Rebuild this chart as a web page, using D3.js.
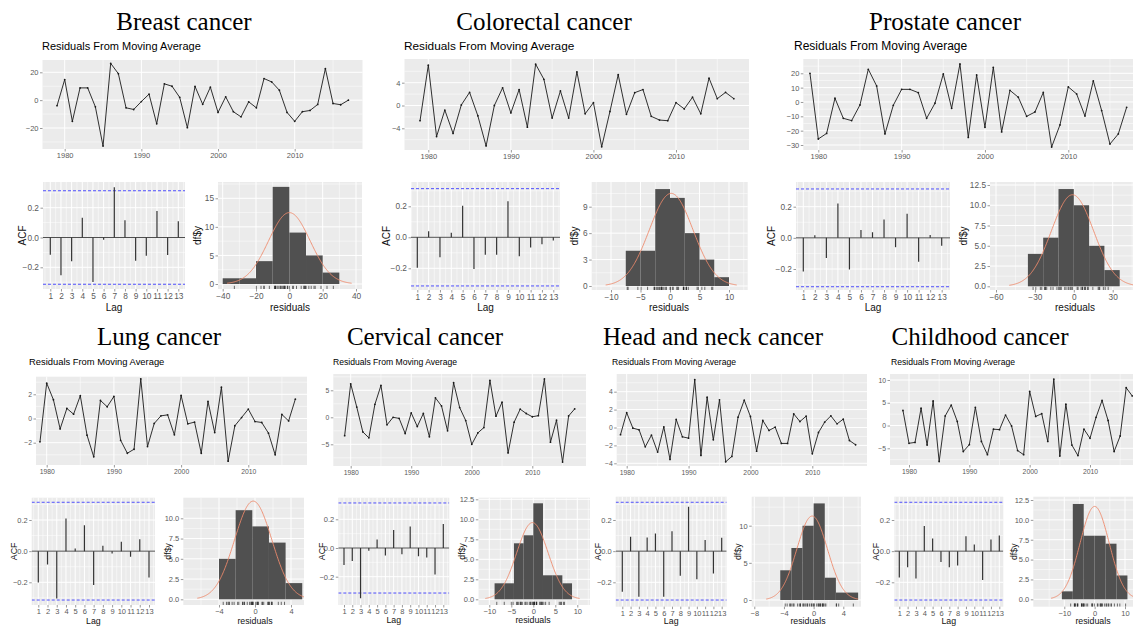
<!DOCTYPE html>
<html><head><meta charset="utf-8">
<script src="https://cdn.jsdelivr.net/npm/d3@7"></script>
<style>
body{margin:0;background:#fff;overflow:hidden;}
svg{display:block;}
</style></head><body>
<svg id="fig" width="1133" height="626"></svg>
<script>
// ---- data ----
const years = d3.range(1979, 2018);
const lags = [1,2,3,4,5,6,7,8,9,10,11,12,13];
const yearTicks = [1980, 1990, 2000, 2010];
const acfTicks = [-0.2, 0, 0.2];

const breastResid = [-4,14.8,-15.2,8.8,8.8,-4.8,-33,26.4,19,-5.5,-6.7,-1,4.3,-17,11.7,10,2,-19.8,9.8,-3,9.3,-8.8,2.4,-8.3,-12,-1.2,-5.5,15.5,13.1,7.1,-8.8,-15.2,-8.3,-7.4,-3.1,22.6,-2.4,-3.3,0];
const breastAcf = [-0.116,-0.253,-0.16,0.133,-0.298,-0.015,0.338,0.116,-0.156,-0.122,0.178,-0.118,0.109];
const breastBins = [-40, 10];            // first bin start, bin width
const breastCounts = [1,1,4,17,9,5,2];
const breastFit = [0, 12.45];            // normal mean, sd
const breastTsTicks = [-20, 0, 20];
const breastHistX = [-40, -20, 0, 20, 40];
const breastHistY = [0, 5, 10, 15];

const colorectalResid = [-2.67,7.07,-5.45,-0.8,-4.9,0.1,2.3,-1.8,-7.1,0,3.1,-1.3,2.8,-3.8,7.25,4.6,-2.2,2.55,-2.2,5.9,-1.45,0.5,-7.25,-1.05,5.4,-1.55,2.25,2.8,-1.9,-2.55,-2.67,0.5,-0.6,1.45,-1.45,4.8,1.2,2.3,1.2];
const colorectalAcf = [-0.196,0.039,-0.129,0.03,0.204,-0.204,-0.112,-0.112,0.232,-0.123,-0.065,-0.045,-0.02];
const colorectalBins = [-7.5, 2.5];
const colorectalCounts = [4,4,11,10,6,3,1];
const colorectalFit = [0.2, 3.7];
const colorectalTsTicks = [-4, 0, 4];
const colorectalHistX = [-10, -5, 0, 5, 10];
const colorectalHistY = [0, 3, 6, 9];

const prostateResid = [20,-25.8,-21.9,2.6,-11.4,-13,-2.1,22.8,11.2,-22.3,-2.3,8.8,8.8,6.5,-11.4,-0.9,19.5,-4.4,26.5,-24.7,18.8,-17.7,24.2,-20.9,8.1,3.3,-10,-7,6.7,-31.4,-16,10.5,5.6,-9.8,14.7,-6,-29.3,-22.3,-3.7];
const prostateAcf = [-0.216,0.017,-0.13,0.22,-0.203,0.051,0.036,0.118,-0.06,0.154,-0.154,0.019,-0.051];
const prostateBins = [-35.4, 11.8];
const prostateCounts = [4,6,12,10,5,2];
const prostateFit = [-1, 16.25];
const prostateTsTicks = [-30, -20, -10, 0, 10, 20];
const prostateHistX = [-60, -30, 0, 30];
const prostateHistY = [0, 2.5, 5, 7.5, 10, 12.5];

const lungResid = [-1.93,2.92,1.55,-0.86,0.83,0.36,1.88,-1.38,-3.17,1.49,0.97,1.82,-1.8,-2.87,-2.54,3.28,-2.32,-0.41,0.22,0.3,-1.35,1.9,-0.44,-0.3,-2.87,1.41,-1.16,2.59,-3.53,-0.6,0.08,0.77,-0.25,-0.33,-1.21,-3.0,0.33,-0.2,1.6];
const lungAcf = [-0.201,-0.086,-0.304,0.21,0.017,0.167,-0.218,0.034,-0.015,0.06,-0.036,0.077,-0.169];
const lungBins = [-4.0, 1.85];
const lungCounts = [5,11,9,7,2];
const lungFit = [-0.2, 2.07];
const lungTsTicks = [-2, 0, 2];
const lungHistX = [-4, 0, 4];
const lungHistY = [0, 2.5, 5, 7.5, 10];

const cervicalResid = [-3.4,6.2,1.9,-2.7,-3.8,2.4,5.9,-1.4,0,-0.2,-3.0,0.8,-1.7,0.7,-3.6,3.6,2.1,-2.5,6.4,1.8,-0.6,-5.0,-2.9,-1.9,6.85,0.2,2.8,-6.6,-0.9,1.5,0.7,0.1,0.3,7.1,-4.6,-0.55,-8.3,0.25,1.55];
const cervicalAcf = [-0.119,-0.091,-0.351,-0.019,0.06,-0.053,0.126,-0.044,0.149,-0.058,-0.067,-0.184,0.167];
const cervicalBins = [-8.8, 2.2];
const cervicalCounts = [2,2,7,8,12,3,3,2];
const cervicalFit = [-0.2, 3.57];
const cervicalTsTicks = [-5, 0, 5];
const cervicalHistX = [-10, -5, 0, 5, 10];
const cervicalHistY = [0, 2.5, 5, 7.5, 10, 12.5];

const headResid = [-0.8,1.65,-0.07,-0.26,-2.16,-0.86,-2.75,0.07,-3.57,0.9,-1.04,-1.19,5.35,-3.12,3.38,-1.38,3.09,-3.83,-3.23,1.15,3.05,1.23,-2.64,0.78,-0.33,0.04,-1.78,-1.78,1.52,0.67,1.26,-2.94,-0.56,0.6,1.3,0.41,0.93,-1.45,-1.93];
const headAcf = [-0.261,0.092,-0.293,0.088,0.113,-0.293,0.128,-0.158,0.285,-0.18,0.071,-0.143,0.086];
const headBins = [-4.5, 1.5];
const headCounts = [4,7,10,13,3,1,1];
const headFit = [-0.2, 2.065];
const headTsTicks = [-4, -2, 0, 2, 4];
const headHistX = [-8, -4, 0, 4];
const headHistY = [0, 5, 10];

const childResid = [3.3,-3.9,-3.7,3.8,-4.3,5.4,-7.9,2.1,4.5,0.9,-5.7,-4.2,4.0,-3.5,-6.4,-0.8,-0.9,2.3,-0.1,-5.5,-6.4,7.5,2.0,2.6,-3.5,10.2,-6.7,4.7,-4.3,-6.6,-0.8,-2.8,1.8,5.5,1.1,-5.7,-2.3,8.3,6.5];
const childAcf = [-0.169,-0.103,-0.176,0.161,0.081,-0.069,-0.103,-0.092,0.096,0.043,-0.186,0.075,0.101];
const childBins = [-10.8, 3.6];
const childCounts = [1,12,8,8,7,3];
const childFit = [0, 4.79];
const childTsTicks = [-5, 0, 5, 10];
const childHistX = [-10, 0, 10];
const childHistY = [0, 2.5, 5, 7.5, 10, 12.5];

// ---- figure layout: each panel is placed by its rectangle and two calibration ticks per axis ----
const SANS = '"Liberation Sans", Arial, sans-serif';
const SERIF = '"Liberation Serif", "Times New Roman", serif';

const figures = [
  { title: 'Breast cancer', resid: breastResid, acf: breastAcf, bins: breastBins, counts: breastCounts, fit: breastFit,
    tsTicks: breastTsTicks, histX: breastHistX, histY: breastHistY,
    L: { title: [184, 30, 25], sub: [42, 50, 11], tickFs: 7.5, lowFs: 8.3, labFs: 10,
      ts: { r: [42.5, 362.5, 60, 149], xc: [1980, 64.7, 2010, 294.7], yc: [20, 72.3, -20, 128] },
      acf: { r: [43, 185, 182, 289], xc: [1, 50.3, 13, 178.3], yc: [0.2, 207.7, -0.2, 267.3] },
      hist: { r: [218, 362, 182, 289], xc: [-40, 222.7, 40, 356], yc: [15, 198.3, 0, 284] },
      acfLabX: 22, histLabX: 197, xlabY: 311, resLabX: 290 } },
  { title: 'Colorectal cancer', resid: colorectalResid, acf: colorectalAcf, bins: colorectalBins, counts: colorectalCounts, fit: colorectalFit,
    tsTicks: colorectalTsTicks, histX: colorectalHistX, histY: colorectalHistY,
    L: { title: [544, 30, 25], sub: [404, 50, 11.8], tickFs: 7.5, lowFs: 8.3, labFs: 10,
      ts: { r: [404.5, 749, 59, 150], xc: [1980, 428.3, 2010, 676], yc: [4, 82.7, -4, 128.3] },
      acf: { r: [411, 560, 182, 290], xc: [1, 417.3, 13, 553.3], yc: [0.2, 206.3, -0.2, 268.3] },
      hist: { r: [591.7, 747.7, 182, 290], xc: [-10, 611, 10, 729], yc: [9, 206.7, 0, 286] },
      acfLabX: 386.7, histLabX: 574.3, xlabY: 311, resLabX: 669 } },
  { title: 'Prostate cancer', resid: prostateResid, acf: prostateAcf, bins: prostateBins, counts: prostateCounts, fit: prostateFit,
    tsTicks: prostateTsTicks, histX: prostateHistX, histY: prostateHistY,
    L: { title: [945, 30, 25], sub: [794, 50, 12], tickFs: 7.5, lowFs: 8.3, labFs: 10,
      ts: { r: [803.3, 1142, 59, 150], xc: [1980, 818.3, 2010, 1068.3], yc: [20, 73.3, -30, 145] },
      acf: { r: [796, 950, 182, 290], xc: [1, 803.3, 13, 941.7], yc: [0.2, 206.7, -0.2, 269] },
      hist: { r: [990, 1158, 182, 290], xc: [-60, 996, 30, 1112.7], yc: [12.5, 185, 0, 286.3] },
      acfLabX: 771.7, histLabX: 963, xlabY: 311, resLabX: 1075 } },
  { title: 'Lung cancer', resid: lungResid, acf: lungAcf, bins: lungBins, counts: lungCounts, fit: lungFit,
    tsTicks: lungTsTicks, histX: lungHistX, histY: lungHistY,
    L: { title: [159, 345, 25], sub: [29, 365, 9.4], tickFs: 6.8, lowFs: 7.5, labFs: 8.8,
      ts: { r: [36, 307, 376.7, 465], xc: [1980, 46.7, 2010, 248.3], yc: [2, 394.3, -2, 442.7] },
      acf: { r: [31.7, 155, 497.7, 605], xc: [1, 38.3, 13, 149], yc: [0.2, 520, -0.2, 582.3] },
      hist: { r: [183.3, 304, 497.7, 605], xc: [-4, 219, 0, 255], yc: [10, 518.3, 0, 599.3] },
      acfLabX: 14, histLabX: 168, xlabY: 624, resLabX: 255 } },
  { title: 'Cervical cancer', resid: cervicalResid, acf: cervicalAcf, bins: cervicalBins, counts: cervicalCounts, fit: cervicalFit,
    tsTicks: cervicalTsTicks, histX: cervicalHistX, histY: cervicalHistY,
    L: { title: [425, 345, 25], sub: [333, 365, 8.6], tickFs: 6.8, lowFs: 7.5, labFs: 8.8,
      ts: { r: [333.3, 586, 374, 466], xc: [1980, 350.7, 2010, 532.3], yc: [5, 390.3, -5, 444.3] },
      acf: { r: [338.3, 449.3, 497.7, 605], xc: [1, 344, 13, 443.3], yc: [0.2, 519.3, -0.2, 576.7] },
      hist: { r: [478.3, 590, 497.7, 605], xc: [-10, 489.3, 10, 577.3], yc: [12.5, 499.3, 0, 599.3] },
      acfLabX: 321.7, histLabX: 461.7, xlabY: 623, resLabX: 533 } },
  { title: 'Head and neck cancer', resid: headResid, acf: headAcf, bins: headBins, counts: headCounts, fit: headFit,
    tsTicks: headTsTicks, histX: headHistX, histY: headHistY,
    L: { title: [713, 345, 25], sub: [612, 365, 8.6], tickFs: 6.8, lowFs: 7.5, labFs: 8.8,
      ts: { r: [616.7, 867, 374, 466], xc: [1980, 626.7, 2010, 812.3], yc: [4, 391.7, -4, 463.3] },
      acf: { r: [615.7, 726.7, 496.7, 606.7], xc: [1, 622.3, 13, 721.7], yc: [0.2, 520, -0.2, 582.3] },
      hist: { r: [751.7, 861, 496.7, 606.7], xc: [-8, 754.3, 4, 843.3], yc: [10, 525.7, 0, 600] },
      acfLabX: 598.3, histLabX: 738.3, xlabY: 624, resLabX: 808 } },
  { title: 'Childhood cancer', resid: childResid, acf: childAcf, bins: childBins, counts: childCounts, fit: childFit,
    tsTicks: childTsTicks, histX: childHistX, histY: childHistY,
    L: { title: [980, 345, 25], sub: [891, 365, 8.6], tickFs: 6.8, lowFs: 7.5, labFs: 8.8,
      ts: { r: [890, 1150, 374, 465], xc: [1980, 909, 2010, 1090], yc: [10, 380, -5, 448.3] },
      acf: { r: [894.3, 1003.3, 496.7, 606.7], xc: [1, 899.3, 13, 999.3], yc: [0.2, 520, -0.2, 582.3] },
      hist: { r: [1033.3, 1160, 496.7, 606.7], xc: [-10, 1064.3, 10, 1125], yc: [12.5, 500, 0, 599.3] },
      acfLabX: 875.7, histLabX: 1014.3, xlabY: 624, resLabX: 1093 } }
];

// ---- helpers ----
const svg = d3.select('#fig');
let clipCount = 0;

// linear scale whose ticks v1, v2 land on pixels p1, p2, spanning range [r0, r1]
function calib(c, r0, r1) {
  const [v1, p1, v2, p2] = c;
  const k = (p2 - p1) / (v2 - v1);
  return d3.scaleLinear().domain([v1 + (r0 - p1) / k, v1 + (r1 - p1) / k]).range([r0, r1]);
}

function minorBreaks(ticks, scale) {
  const step = ticks[1] - ticks[0];
  const [a, b] = d3.extent(scale.domain());
  const out = [];
  for (let i = -1; i < ticks.length; i++) {
    const m = ticks[0] + (i + 0.5) * step;
    if (m > a && m < b) out.push(m);
  }
  return out;
}

function panel(spec, xTicks, yTicks) {
  const [x0, x1, y0, y1] = spec.r;
  const xs = calib(spec.xc, x0, x1);
  const ys = calib(spec.yc, y1, y0);
  const g = svg.append('g');
  g.append('rect').attr('x', x0).attr('y', y0).attr('width', x1 - x0).attr('height', y1 - y0).attr('fill', '#ebebeb');
  const grid = g.append('g').attr('stroke', '#ffffff');
  grid.selectAll('.vmin').data(minorBreaks(xTicks, xs)).join('line')
    .attr('x1', d => xs(d)).attr('x2', d => xs(d)).attr('y1', y0).attr('y2', y1).attr('stroke-width', 0.5);
  grid.selectAll('.hmin').data(minorBreaks(yTicks, ys)).join('line')
    .attr('y1', d => ys(d)).attr('y2', d => ys(d)).attr('x1', x0).attr('x2', x1).attr('stroke-width', 0.5);
  grid.selectAll('.vmaj').data(xTicks.filter(t => t >= xs.domain()[0] && t <= xs.domain()[1])).join('line')
    .attr('x1', d => xs(d)).attr('x2', d => xs(d)).attr('y1', y0).attr('y2', y1).attr('stroke-width', 1);
  grid.selectAll('.hmaj').data(yTicks).join('line')
    .attr('y1', d => ys(d)).attr('y2', d => ys(d)).attr('x1', x0).attr('x2', x1).attr('stroke-width', 1);
  const id = 'clip' + (clipCount++);
  g.append('clipPath').attr('id', id).append('rect')
    .attr('x', x0).attr('y', y0).attr('width', x1 - x0).attr('height', y1 - y0);
  const inner = g.append('g').attr('clip-path', `url(#${id})`);
  return { g, inner, xs, ys, r: spec.r };
}

function styleAxis(a, fs) {
  a.select('.domain').remove();
  a.selectAll('line').attr('stroke', '#555').attr('stroke-width', 0.6);
  a.selectAll('text').attr('fill', '#5a5a5a').attr('font-size', fs).attr('font-family', SANS);
}

function axes(p, xTicks, xFmt, yTicks, yFmt, fs) {
  const [x0, x1, y0, y1] = p.r;
  const ax = p.g.append('g').attr('transform', `translate(0,${y1})`)
    .call(d3.axisBottom(p.xs).tickValues(xTicks).tickFormat(xFmt).tickSize(2.5).tickPadding(1.5));
  styleAxis(ax, fs);
  const ay = p.g.append('g').attr('transform', `translate(${x0},0)`)
    .call(d3.axisLeft(p.ys).tickValues(yTicks).tickFormat(yFmt).tickSize(2.5).tickPadding(1.5));
  styleAxis(ay, fs);
}

function text(x, y, s, fs, opts = {}) {
  const t = svg.append('text').attr('x', x).attr('y', y).text(s)
    .attr('font-size', fs).attr('font-family', opts.family || SANS)
    .attr('fill', opts.fill || '#111').attr('text-anchor', opts.anchor || 'start');
  if (opts.rotate) t.attr('transform', `rotate(-90,${x},${y})`).attr('dominant-baseline', 'central');
  return t;
}

const fmtInt = d3.format('d');
const fmtYear = d3.format('d');
const fmtAcf = d3.format('.1f');
function histYFmt(ticks) {
  return ticks.some(t => !Number.isInteger(t)) ? d3.format('.1f') : d3.format('d');
}

// ---- draw every cancer site ----
figures.forEach(f => {
  const L = f.L;
  text(L.title[0], L.title[1], f.title, L.title[2], { family: SERIF, anchor: 'middle', fill: '#000' });
  text(L.sub[0], L.sub[1], 'Residuals From Moving Average', L.sub[2], { fill: '#000' });

  // residual series
  const ts = panel(L.ts, yearTicks, f.tsTicks);
  axes(ts, yearTicks, fmtYear, f.tsTicks, fmtInt, L.tickFs);
  const pts = years.map((y, i) => [y, f.resid[i]]);
  ts.inner.append('path').datum(pts)
    .attr('d', d3.line().x(d => ts.xs(d[0])).y(d => ts.ys(d[1])))
    .attr('fill', 'none').attr('stroke', '#1a1a1a').attr('stroke-width', 0.9);
  ts.inner.selectAll('circle').data(pts).join('circle')
    .attr('cx', d => ts.xs(d[0])).attr('cy', d => ts.ys(d[1])).attr('r', 0.9).attr('fill', '#1a1a1a');

  // ACF
  const ac = panel(L.acf, lags, acfTicks);
  axes(ac, lags, fmtInt, acfTicks, fmtAcf, L.lowFs);
  const ci = 1.96 / Math.sqrt(f.resid.length);
  ac.inner.append('line').attr('x1', ac.r[0]).attr('x2', ac.r[1])
    .attr('y1', ac.ys(0)).attr('y2', ac.ys(0)).attr('stroke', '#222').attr('stroke-width', 0.8);
  ac.inner.selectAll('.ci').data([ci, -ci]).join('line')
    .attr('x1', ac.r[0]).attr('x2', ac.r[1]).attr('y1', d => ac.ys(d)).attr('y2', d => ac.ys(d))
    .attr('stroke', '#3f3fff').attr('stroke-width', 0.9).attr('stroke-dasharray', '3,2');
  ac.inner.selectAll('.stem').data(f.acf).join('line')
    .attr('x1', (d, i) => ac.xs(lags[i])).attr('x2', (d, i) => ac.xs(lags[i]))
    .attr('y1', ac.ys(0)).attr('y2', d => ac.ys(d))
    .attr('stroke', '#333').attr('stroke-width', 1.2);
  text(L.acfLabX, (ac.r[2] + ac.r[3]) / 2, 'ACF', L.labFs, { rotate: true, anchor: 'middle' });
  text((ac.r[0] + ac.r[1]) / 2, L.xlabY, 'Lag', L.labFs, { anchor: 'middle' });

  // histogram with fitted normal curve and rug
  const hs = panel(L.hist, f.histX, f.histY);
  axes(hs, f.histX, fmtInt, f.histY, histYFmt(f.histY), L.lowFs);
  const [b0, bw] = f.bins;
  hs.inner.selectAll('.bar').data(f.counts).join('rect')
    .attr('x', (d, i) => hs.xs(b0 + i * bw)).attr('width', (d, i) => hs.xs(b0 + (i + 1) * bw) - hs.xs(b0 + i * bw))
    .attr('y', d => hs.ys(d)).attr('height', d => hs.ys(0) - hs.ys(d))
    .attr('fill', '#505050');
  const n = d3.sum(f.counts);
  const [mu, sd] = f.fit;
  const curve = d3.range(0, 201).map(k => {
    const x = mu - 3 * sd + k * (6 * sd / 200);
    return [x, n * bw * Math.exp(-0.5 * ((x - mu) / sd) ** 2) / (sd * Math.sqrt(2 * Math.PI))];
  });
  hs.inner.append('path').datum(curve)
    .attr('d', d3.line().x(d => hs.xs(d[0])).y(d => hs.ys(d[1])))
    .attr('fill', 'none').attr('stroke', '#ee8a6c').attr('stroke-width', 0.9);
  hs.inner.selectAll('.rug').data(f.resid).join('line')
    .attr('x1', d => hs.xs(d)).attr('x2', d => hs.xs(d))
    .attr('y1', hs.r[3]).attr('y2', hs.r[3] - 3.2)
    .attr('stroke', '#111').attr('stroke-width', 0.6);
  text(L.histLabX, (hs.r[2] + hs.r[3]) / 2, 'df$y', L.labFs, { rotate: true, anchor: 'middle' });
  text(L.resLabX, L.xlabY, 'residuals', L.labFs, { anchor: 'middle' });
});
</script>
</body></html>
